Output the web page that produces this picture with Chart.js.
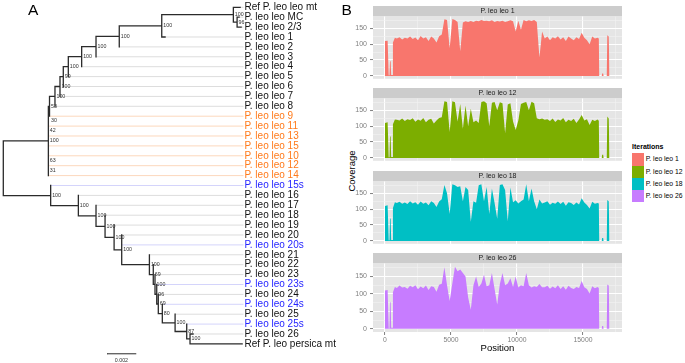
<!DOCTYPE html>
<html>
<head>
<meta charset="utf-8">
<script src="https://cdn.jsdelivr.net/npm/chart.js@4.4.1/dist/chart.umd.min.js"></script>
<style>
  body { margin: 0; background: #fff; font-family: "Liberation Sans", Arial, sans-serif; }
  #wrap { position: relative; width: 685px; height: 363px; overflow: hidden; }
  canvas { position: absolute; }
  .tag { position: absolute; font-size: 15.5px; line-height: 1; color: #000; }
  #ylab { position: absolute; left: 321.5px; top: 165px; width: 60px; height: 12px; line-height: 12px;
          text-align: center; font-size: 9.5px; transform: rotate(-90deg); }
  #legend { position: absolute; left: 632px; top: 141px; font-size: 6.8px; }
  #legend .title { position: absolute; left: 0; top: 0; font-weight: bold; font-size: 7px; white-space: nowrap; line-height: 11px; }
  #legend .key { position: absolute; left: 0; width: 12.3px; height: 12.3px; }
  #legend .lab { position: absolute; left: 13.7px; line-height: 12.3px; white-space: nowrap; }
</style>
</head>
<body>
<div id="wrap">
  <canvas id="tree" width="340" height="363" style="left:0;top:0"></canvas>
  <div class="tag" style="left:28px;top:2px">A</div>
  <div class="tag" style="left:341.5px;top:2px">B</div>
  <div id="ylab">Coverage</div>
  <div id="legend"><div class="title">Iterations</div></div>
</div>
<script>
// ---------- panel A: tree ----------
const leafNames = ['Ref P. leo leo mt', 'P. leo leo MC', 'P. leo leo 2/3', 'P. leo leo 1', 'P. leo leo 2',
  'P. leo leo 3', 'P. leo leo 4', 'P. leo leo 5', 'P. leo leo 6', 'P. leo leo 7', 'P. leo leo 8',
  'P. leo leo 9', 'P. leo leo 11', 'P. leo leo 13', 'P. leo leo 15', 'P. leo leo 10', 'P. leo leo 12',
  'P. leo leo 14', 'P. leo leo 15s', 'P. leo leo 16', 'P. leo leo 17', 'P. leo leo 18', 'P. leo leo 19',
  'P. leo leo 20', 'P. leo leo 20s', 'P. leo leo 21', 'P. leo leo 22', 'P. leo leo 23', 'P. leo leo 23s',
  'P. leo leo 24', 'P. leo leo 24s', 'P. leo leo 25', 'P. leo leo 25s', 'P. leo leo 26', 'Ref P. leo persica mt'];
// 0 = black, 1 = orange, 2 = blue
const leafGroup = [0,0,0,0,0,0,0,0,0,0,0,1,1,1,1,1,1,1,2,0,0,0,0,0,2,0,0,0,2,0,2,0,2,0,0];
const leafParent = [11,12,12,10,9,8,7,6,5,4,3,2,1,1,1,1,1,1,13,14,15,16,17,18,18,19,20,21,22,23,24,25,26,27,27];
// tip depth (subst./site), null = zero-length branch
const leafDepth = [0.01650, 0.01643, 0.01657, 0.01127, null, null, null, null, null, null, null,
  null, null, null, null, null, null, null, null, null, null, null, null, null, null, null, null,
  null, null, null, null, null, null, 0.01322, 0.01664];
const leafSupport = [null,null,null,null,null,null,null,null,null,null,null,30,42,100,null,63,31,
  null,null,null,null,null,null,null,null,null,null,null,null,null,null,null,null,null,null];

const nodeParent = [-1,0,1,2,3,4,5,6,7,8,9,10,11,0,13,14,15,16,17,18,19,20,21,22,23,24,25,26];
const nodeDepth = [0, 0.00314, 0.00322, 0.00360, 0.00395, 0.00418, 0.00453, 0.00546, 0.00646, 0.00808,
  0.01104, 0.01603, 0.01629, 0.00330, 0.00523, 0.00646, 0.00709, 0.00772, 0.00825, 0.01018, 0.01045,
  0.01057, 0.01069, 0.01080, 0.01108, 0.01197, 0.01278, 0.01301];
const nodeSupport = [null,null,53,100,100,99,100,100,100,100,100,100,96,100,100,100,100,100,100,100,
  69,100,96,69,80,100,87,100];

const scaleBarLength = 0.002;
const scaleBarStart = 0.00723;
const scaleBarRow = 35;
const leaderEnd = 0.0167;
const labelDepth = 0.0168;

const family = '"Liberation Sans", Arial, sans-serif';
const groupColors = ['#111111', '#ff7a1a', '#2424ff'];
const leaderColors = ['#dddddd', '#fcd8bd', '#d4d4fb'];

// children lists and node heights
const children = nodeParent.map(() => []);
nodeParent.forEach((p, n) => { if (p >= 0) children[p].push({node: n}); });
leafParent.forEach((p, i) => children[p].push({leaf: i}));
const nodeY = [];
function placeNode(n) {
  const ys = children[n].map(c => c.leaf !== undefined ? c.leaf : placeNode(c.node));
  nodeY[n] = (Math.min(...ys) + Math.max(...ys)) / 2;
  return nodeY[n];
}
placeNode(0);
const tipDepth = leafDepth.map((d, i) => d === null ? nodeDepth[leafParent[i]] : d);

const branchPts = [];
children.forEach((kids, n) => {
  const d = nodeDepth[n];
  const ys = kids.map(c => c.leaf !== undefined ? c.leaf : nodeY[c.node]);
  branchPts.push({x: d, y: Math.min(...ys)}, {x: d, y: Math.max(...ys)}, {x: d, y: null});
  kids.forEach(c => {
    const cy = c.leaf !== undefined ? c.leaf : nodeY[c.node];
    const cd = c.leaf !== undefined ? tipDepth[c.leaf] : nodeDepth[c.node];
    if (cd > d) branchPts.push({x: d, y: cy}, {x: cd, y: cy}, {x: cd, y: null});
  });
});
const leaderPts = [[], [], []];
leafNames.forEach((_, i) => {
  leaderPts[leafGroup[i]].push({x: tipDepth[i], y: i}, {x: leaderEnd, y: i}, {x: leaderEnd, y: null});
});

const treeLabels = {
  id: 'treeLabels',
  afterDatasetsDraw(chart) {
    const {ctx, scales: {x, y}} = chart;
    ctx.save();
    ctx.textBaseline = 'middle';
    ctx.font = '10px ' + family;
    leafNames.forEach((name, i) => {
      ctx.fillStyle = groupColors[leafGroup[i]];
      ctx.fillText(name, x.getPixelForValue(labelDepth), y.getPixelForValue(i));
    });
    ctx.font = '5.3px ' + family;
    ctx.fillStyle = '#333';
    nodeSupport.forEach((s, n) => {
      if (s !== null) ctx.fillText(s, x.getPixelForValue(nodeDepth[n]) + 1.5, y.getPixelForValue(nodeY[n]));
    });
    leafSupport.forEach((s, i) => {
      if (s !== null) ctx.fillText(s, x.getPixelForValue(nodeDepth[leafParent[i]]) + 1.5, y.getPixelForValue(i + 0.45));
    });
    ctx.textAlign = 'center';
    ctx.fillText(String(scaleBarLength), x.getPixelForValue(scaleBarStart + scaleBarLength / 2), y.getPixelForValue(scaleBarRow) + 6.5);
    ctx.restore();
  }
};

const lineDs = (data, color, width) => ({data, showLine: true, borderColor: color, borderWidth: width,
  pointRadius: 0, borderCapStyle: 'square'});

new Chart(document.getElementById('tree'), {
  type: 'scatter',
  data: {
    datasets: [
      lineDs(branchPts, '#2b2b2b', 1.3),
      lineDs([{x: scaleBarStart, y: scaleBarRow}, {x: scaleBarStart + scaleBarLength, y: scaleBarRow}], '#2b2b2b', 1),
      ...leaderPts.map((pts, g) => lineDs(pts, leaderColors[g], 1))
    ]
  },
  options: {
    responsive: false, animation: false, events: [],
    layout: {padding: 0},
    plugins: {legend: {display: false}, tooltip: {enabled: false}},
    scales: {
      x: {type: 'linear', display: false, min: -0.00023, max: 0.02346},
      y: {type: 'linear', display: false, min: -0.737, max: 35.93, reverse: true}
    }
  },
  plugins: [treeLabels]
});

// ---------- panel B: coverage ----------
const seriesNames = ['P. leo leo 1', 'P. leo leo 12', 'P. leo leo 18', 'P. leo leo 26'];
const seriesColors = ['#F8766D', '#7CAE00', '#00BFC4', '#C77CFF'];
const xTicks = [0, 5000, 10000, 15000];
const xMinor = [2500, 7500, 12500, 17500];
const yTicks = [0, 50, 100, 150];
const yMinor = [25, 75, 125, 175];

const positions = [0, 200, 280, 340, 380, 430, 470, 540, 600, 750,
  900, 1100, 1300, 1500, 1700, 1900, 2100, 2300, 2500, 2700, 2900, 3100, 3300, 3500, 3700, 3900, 4100, 4300,
  4500, 4700, 4900, 5100, 5300, 5500, 5700, 5900, 6100, 6300, 6500, 6700, 6900, 7100, 7300, 7500, 7700,
  7900, 8100, 8300, 8500, 8700, 8900, 9100, 9300, 9500, 9700, 9900, 10100, 10300, 10500, 10700, 10900,
  11100, 11300, 11500, 11700, 11900,
  12100, 12300, 12500, 12700, 12900, 13100, 13300, 13500, 13700, 13900, 14100, 14300, 14500, 14700, 14900,
  15100, 15300, 15500, 15700, 15900, 16100,
  16200, 16230, 16420, 16450, 16530, 16560, 16800, 16840, 16950, 17010];

const coverage1 = [110, 111, 2, 2, 48, 45, 3, 3, 105, 120,
  118, 122, 115, 120, 118, 124, 116, 121, 112, 126, 118, 122, 110, 124, 118, 105, 125, 130,
  178, 176, 87, 179, 176, 170, 78, 168, 172, 170, 173, 170, 174, 172, 176, 173, 174, 172, 175, 170,
  173, 171, 174, 170, 172, 175, 172, 140, 174, 145, 176, 172, 175, 173, 176, 170, 58, 140,
  118, 124, 112, 122, 118, 125, 115, 122, 110, 124, 118, 112, 122, 116, 136, 120, 112, 100, 124, 118, 120,
  118, 0, 0, 8, 8, 0, 0, 128, 124, 0];
const coverage12 = [110, 112, 2, 2, 70, 65, 3, 3, 106, 121,
  120, 118, 124, 116, 122, 119, 125, 114, 121, 117, 126, 112, 120, 123, 108, 118, 126, 128,
  178, 176, 82, 178, 175, 115, 170, 92, 165, 100, 155, 112, 118, 110, 176, 178, 172, 100, 174, 176,
  150, 175, 172, 78, 168, 172, 115, 88, 118, 170, 174, 176, 150, 177, 172, 125, 122, 124,
  120, 122, 116, 124, 113, 121, 118, 126, 112, 120, 116, 123, 110, 121, 135, 118, 122, 104, 120, 116, 121,
  117, 0, 0, 10, 10, 0, 0, 130, 124, 0];
const coverage18 = [110, 112, 2, 2, 72, 68, 3, 3, 104, 122,
  119, 123, 117, 121, 116, 125, 118, 122, 114, 124, 117, 121, 112, 125, 119, 107, 124, 131,
  176, 150, 85, 178, 175, 170, 172, 125, 170, 160, 60, 125, 120, 175, 178, 125, 170, 85, 165, 120,
  70, 176, 178, 160, 62, 168, 122, 128, 118, 125, 130, 178, 125, 165, 125, 100, 130, 118,
  121, 125, 114, 120, 117, 124, 116, 123, 111, 122, 119, 113, 121, 115, 134, 121, 113, 102, 123, 117, 119,
  118, 0, 0, 9, 9, 0, 0, 129, 125, 0];
const coverage26 = [110, 111, 2, 2, 78, 74, 3, 3, 105, 120,
  117, 124, 118, 120, 115, 123, 119, 125, 113, 121, 116, 124, 111, 122, 120, 106, 126, 129,
  176, 125, 80, 130, 178, 165, 170, 160, 150, 90, 55, 125, 150, 120, 130, 155, 122, 125, 160, 115,
  70, 128, 160, 125, 130, 145, 120, 150, 118, 125, 122, 160, 125, 118, 122, 120, 128, 119,
  119, 123, 115, 121, 116, 125, 114, 122, 112, 123, 117, 114, 120, 117, 137, 119, 114, 101, 122, 116, 120,
  117, 0, 0, 8, 8, 0, 0, 127, 124, 0];
const coverage = [coverage1, coverage12, coverage18, coverage26];

const facetStrip = {
  id: 'facetStrip',
  beforeDraw(chart) {
    const {ctx, chartArea: a} = chart;
    ctx.save();
    ctx.fillStyle = '#cccccc';
    ctx.fillRect(a.left, a.top - 10.5, a.right - a.left, 10.5);
    ctx.fillStyle = '#e5e5e5';
    ctx.fillRect(a.left, a.top, a.right - a.left, a.bottom - a.top);
    ctx.fillStyle = '#1a1a1a';
    ctx.font = '7px ' + family;
    ctx.textAlign = 'center';
    ctx.textBaseline = 'middle';
    ctx.fillText(chart.data.datasets[0].label, (a.left + a.right) / 2, a.top - 5.1);
    ctx.restore();
  }
};

const isMajor = (list) => (c) => c.tick && list.includes(c.tick.value);
function gridFor(list, ticksOn) {
  const major = isMajor(list);
  return {
    color: c => major(c) ? '#ffffff' : '#f2f2f2',
    lineWidth: c => major(c) ? 1.1 : 0.6,
    drawTicks: ticksOn,
    tickLength: 3,
    tickWidth: 1,
    tickColor: c => major(c) ? '#7f7f7f' : 'rgba(0,0,0,0)'
  };
}
const setTicks = (major, minor) => (s) => {
  s.ticks = major.concat(minor).sort((a, b) => a - b).map(v => ({value: v}));
};

const wrap = document.getElementById('wrap');
seriesNames.forEach((name, k) => {
  const last = k === seriesNames.length - 1;
  const cv = document.createElement('canvas');
  cv.width = 284;
  cv.height = last ? 110 : 80;
  cv.style.left = '340px';
  cv.style.top = Math.round(5.8 + 82.5 * k) + 'px';
  wrap.appendChild(cv);

  new Chart(cv, {
    type: 'line',
    data: {
      datasets: [{
        label: name,
        data: positions.map((p, i) => ({x: p, y: coverage[k][i]})),
        fill: 'origin',
        backgroundColor: seriesColors[k],
        borderColor: seriesColors[k],
        borderWidth: 0,
        pointRadius: 0,
        tension: 0
      }]
    },
    options: {
      responsive: false, animation: false, events: [],
      layout: {padding: {top: 10.5, right: 2, bottom: last ? 0 : 0.9, left: 0}},
      plugins: {legend: {display: false}, tooltip: {enabled: false}},
      scales: {
        x: {
          type: 'linear', min: -909, max: 17955,
          border: {display: false},
          grid: gridFor(xTicks, last),
          afterBuildTicks: setTicks(xTicks, xMinor),
          ticks: {
            display: last, autoSkip: false, maxRotation: 0,
            padding: 1, color: '#7f7f7f', font: {size: 6.8, family},
            callback: v => xTicks.includes(v) ? String(v) : ''
          },
          title: {display: last, text: 'Position', color: '#000', font: {size: 9.5, family},
                  padding: {top: 0, bottom: 9}},
          afterFit: s => { s.height = last ? 31 : 0; }
        },
        y: {
          type: 'linear', min: -9, max: 187,
          border: {display: false},
          grid: gridFor(yTicks, true),
          afterBuildTicks: setTicks(yTicks, yMinor),
          ticks: {
            autoSkip: false, padding: 3,
            color: '#7f7f7f', font: {size: 7, family},
            callback: v => yTicks.includes(v) ? String(v) : ''
          },
          afterFit: s => { s.width = 33; }
        }
      }
    },
    plugins: [facetStrip]
  });
});

// legend
const legend = document.getElementById('legend');
seriesNames.forEach((name, k) => {
  const key = document.createElement('div');
  key.className = 'key';
  key.style.top = (12.3 + 12.3 * k) + 'px';
  key.style.background = seriesColors[k];
  legend.appendChild(key);
  const lab = document.createElement('div');
  lab.className = 'lab';
  lab.style.top = (12.3 + 12.3 * k) + 'px';
  lab.textContent = name;
  legend.appendChild(lab);
});
</script>
</body>
</html>
